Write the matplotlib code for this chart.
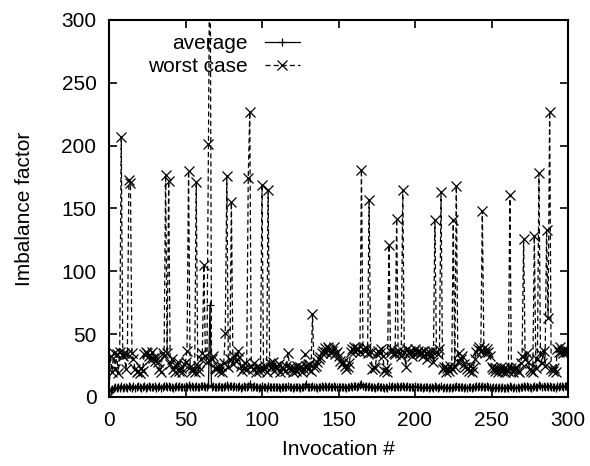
import matplotlib
matplotlib.use("Agg")
import matplotlib.pyplot as plt
import numpy as np

plt.rcParams['font.family'] = ['Liberation Sans', 'DejaVu Sans']

invocations = list(range(0, 301))

average = [
    0.5, 5.5, 6.5, 7.0, 7.8, 6.9, 8.1, 7.4, 8.6, 7.2,
    7.9, 8.3, 7.0, 8.8, 8.1, 7.5, 8.4, 7.1, 7.8, 8.9,
    8.2, 7.4, 7.9, 8.6, 7.3, 8.0, 8.7, 7.6, 8.3, 7.7,
    8.5, 7.2, 8.0, 8.8, 7.5, 8.2, 9.1, 8.4, 7.8, 8.6,
    7.9, 8.3, 7.4, 8.1, 8.7, 7.6, 8.4, 7.9, 8.2, 7.7,
    8.9, 8.1, 9.3, 7.8, 8.5, 8.0, 7.6, 8.8, 8.2, 7.9,
    8.4, 8.7, 9.0, 8.3, 7.8, 9.4, 73.0, 8.1, 8.6, 7.9,
    8.3, 7.7, 8.5, 8.0, 7.6, 8.2, 8.8, 9.2, 7.9, 8.4,
    8.9, 8.1, 8.6, 7.8, 8.3, 8.7, 7.5, 8.0, 8.4, 7.7,
    8.2, 9.0, 10.5, 8.1, 7.6, 8.4, 7.9, 8.3, 7.5, 8.0,
    8.7, 7.8, 8.2, 7.4, 8.6, 8.1, 7.7, 8.3, 7.6, 8.0,
    7.8, 8.2, 7.5, 8.0, 7.6, 8.3, 7.9, 8.4, 7.7, 8.1,
    7.5, 7.9, 8.3, 7.6, 8.0, 7.4, 8.2, 7.8, 8.5, 10.2,
    7.7, 8.1, 7.6, 8.6, 7.9, 8.2, 7.5, 8.3, 8.0, 8.4,
    8.1, 8.6, 7.9, 8.3, 8.7, 7.8, 8.2, 8.5, 7.9, 8.3,
    8.0, 7.7, 8.2, 7.6, 8.1, 7.5, 7.9, 8.3, 8.6, 8.0,
    8.4, 8.8, 8.1, 8.5, 9.2, 10.0, 8.6, 8.2, 8.7, 8.3,
    8.9, 8.1, 7.6, 7.9, 7.4, 8.2, 8.5, 8.0, 8.3, 7.8,
    7.5, 7.9, 7.3, 8.4, 8.1, 8.6, 8.2, 7.8, 8.7, 8.3,
    8.0, 8.4, 8.9, 8.2, 7.6, 8.5, 8.1, 8.3, 7.7, 8.2,
    8.6, 7.9, 8.3, 7.6, 8.0, 7.4, 8.1, 7.7, 8.2, 7.5,
    7.9, 8.2, 7.4, 8.5, 7.8, 7.5, 8.0, 8.4, 7.3, 7.6,
    7.2, 7.7, 7.4, 7.9, 7.1, 8.3, 7.6, 8.5, 7.8, 8.1,
    7.9, 8.2, 7.5, 7.8, 7.3, 7.6, 8.0, 7.4, 7.7, 8.1,
    8.4, 8.0, 8.6, 8.2, 8.8, 8.3, 7.9, 8.5, 8.1, 7.8,
    7.5, 7.8, 7.2, 7.6, 7.3, 7.9, 7.5, 7.7, 7.1, 7.4,
    7.8, 7.3, 8.6, 7.6, 7.2, 7.7, 7.4, 7.9, 7.5, 8.0,
    8.3, 8.9, 8.1, 8.4, 7.9, 7.6, 7.4, 7.8, 8.5, 7.7,
    8.2, 9.4, 8.6, 8.0, 8.5, 7.8, 8.7, 8.3, 9.0, 7.9,
    7.6, 8.0, 7.5, 8.6, 8.3, 8.8, 8.4, 8.1, 8.7, 8.5,
    8.6,
]

worst_case = [
    1, 33, 20, 35, 22, 34, 19, 36, 207, 33,
    35, 22, 34, 173, 170, 35, 30, 22, 20, 21,
    19, 23, 21, 34, 36, 35, 33, 30, 36, 31,
    29, 32, 28, 22, 20, 35, 33, 177, 35, 172,
    26, 30, 22, 20, 25, 28, 21, 23, 20, 26,
    28, 37, 180, 24, 21, 23, 20, 171, 25, 21,
    30, 35, 105, 33, 28, 201, 400, 30, 33, 23,
    22, 24, 21, 25, 20, 27, 51, 176, 24, 30,
    155, 26, 33, 29, 37, 32, 25, 21, 23, 27,
    22, 174, 227, 25, 22, 27, 20, 24, 21, 23,
    169, 22, 25, 20, 165, 27, 24, 28, 21, 25,
    23, 26, 20, 24, 22, 21, 25, 35, 24, 22,
    20, 23, 21, 25, 22, 24, 20, 23, 34, 25,
    22, 26, 21, 66, 24, 25, 28, 30, 32, 35,
    37, 39, 36, 40, 38, 35, 37, 40, 34, 36,
    33, 29, 26, 28, 25, 22, 24, 27, 36, 38,
    40, 37, 39, 38, 36, 181, 38, 37, 39, 35,
    157, 36, 22, 24, 23, 34, 37, 35, 38, 33,
    21, 23, 20, 121, 36, 38, 35, 34, 142, 37,
    35, 33, 165, 36, 24, 38, 35, 37, 33, 36,
    38, 35, 37, 34, 36, 33, 37, 35, 30, 36,
    33, 37, 28, 141, 36, 34, 38, 163, 22, 24,
    20, 23, 21, 25, 22, 141, 24, 168, 28, 35,
    30, 33, 26, 24, 22, 21, 25, 20, 23, 30,
    36, 38, 40, 37, 148, 39, 35, 38, 36, 33,
    24, 22, 21, 23, 20, 22, 24, 21, 23, 20,
    22, 21, 161, 23, 20, 22, 24, 21, 20, 27,
    33, 126, 30, 35, 28, 22, 21, 20, 128, 23,
    30, 178, 35, 27, 37, 25, 133, 63, 227, 22,
    21, 23, 20, 38, 36, 40, 37, 35, 38, 36,
    37,
]

x_ticks = [0, 50, 100, 150, 200, 250, 300]
y_ticks = [0, 50, 100, 150, 200, 250, 300]

fig = plt.figure(figsize=(5.90, 4.66), dpi=100)
ax = fig.add_axes([109/590, 1 - 397/466, (568 - 109)/590, (397 - 20)/466])

ax.plot(invocations, average, color='black', linewidth=0.9, linestyle='-',
        marker='+', markersize=6, markeredgewidth=0.9, label='average')
ax.plot(invocations, worst_case, color='black', linewidth=0.9, linestyle=(0, (4, 2.5)),
        marker='x', markersize=7, markeredgewidth=0.9, label='worst case')

ax.set_xlim(0, 300)
ax.set_ylim(0, 300)
ax.set_xticks(x_ticks)
ax.set_yticks(y_ticks)
ax.tick_params(direction='in', length=6, width=1.2, top=True, right=True,
               labelsize=15)
ax.tick_params(axis='y', pad=9)
ax.tick_params(axis='x', pad=10)
for s in ax.spines.values():
    s.set_linewidth(1.5)

ax.set_xlabel('Invocation #', fontsize=15, labelpad=7)
ax.set_ylabel('Imbalance factor', fontsize=15, labelpad=20)

leg = ax.legend(loc='upper right', bbox_to_anchor=((300 - 109)/459, 0.963),
                markerfirst=False, frameon=False, fontsize=15, borderpad=0,
                handlelength=1.7, handletextpad=0.8, labelspacing=0.2,
                borderaxespad=0)

fig.savefig('out.png', dpi=100)
